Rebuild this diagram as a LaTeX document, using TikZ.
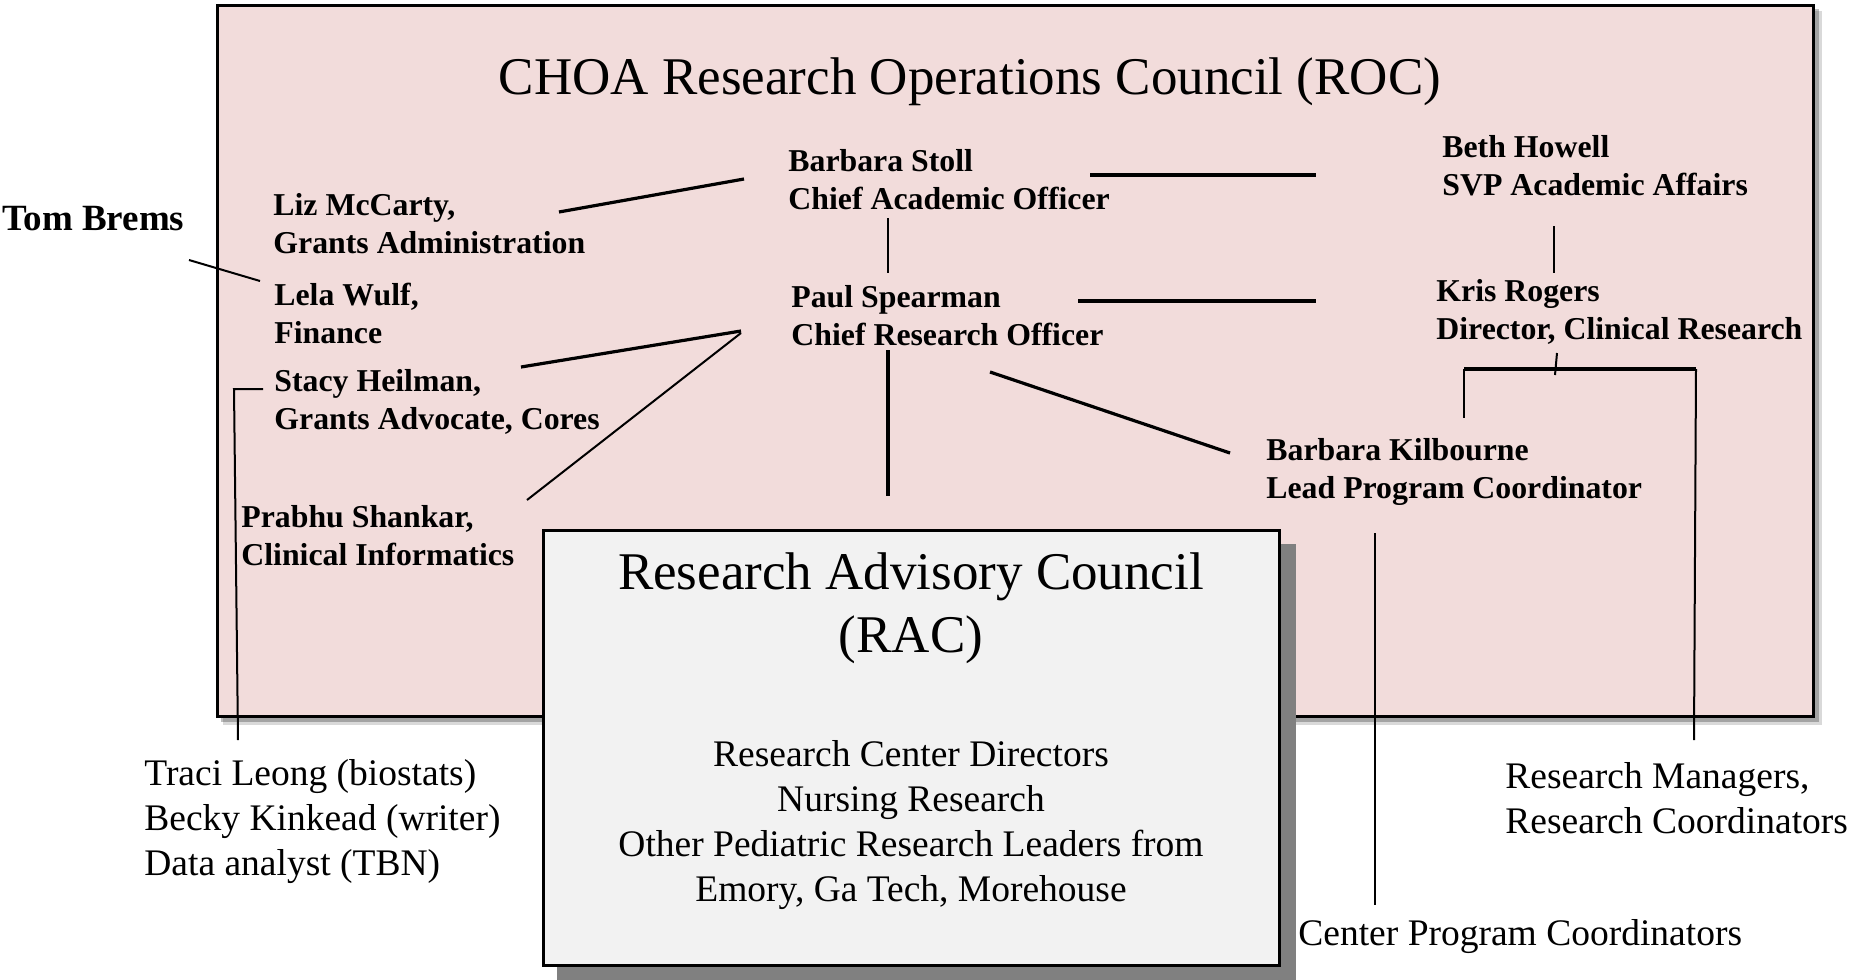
\documentclass[tikz,border=0pt]{standalone}
\usepackage{fontspec}
\setmainfont{Liberation Serif}
\definecolor{rocfill}{HTML}{F2DCDB}
\definecolor{racfill}{HTML}{F2F2F2}
\definecolor{shadowgray}{HTML}{808080}
\begin{document}
\begin{tikzpicture}[x=0.5pt,y=-0.5pt,
  namebox/.style={font=\fontsize{15.9}{19}\selectfont\bfseries, align=left, inner sep=0, anchor=west},
  plainbox/.style={font=\fontsize{18.75}{22.5}\selectfont, align=left, inner sep=0, anchor=west},
  centerbox/.style={font=\fontsize{18.75}{22.5}\selectfont, align=center, inner sep=0},
  titlebox/.style={font=\fontsize{26.5}{31.5}\selectfont, align=center, inner sep=0},
  thinline/.style={line width=1pt},
  boldline/.style={line width=1.6pt},
]
\useasboundingbox (0,0) rectangle (1854,980);
% ROC box with soft shadow
\fill[black,opacity=0.15] (223,11) rectangle (1822,725);
\fill[black,opacity=0.25] (221,9) rectangle (1819,722);
\draw[line width=1.5pt, fill=rocfill] (217,5) rectangle (1813,716);
\node[titlebox] (roc) at (970,82) {CHOA Research Operations Council (ROC)};

% coordinates for connector ends
\coordinate (tomA) at (189,260); \coordinate (tomB) at (260,281);
\coordinate (lizA) at (559,212); \coordinate (lizB) at (744,179);
\coordinate (stollS) at (888,218); \coordinate (spearN) at (888,273);
\coordinate (stacyA) at (521,367); \coordinate (spearW1) at (741,331);
\coordinate (prabA) at (527,500); \coordinate (spearW2) at (741,333);
\coordinate (stacyB) at (263,389); \coordinate (stacyC) at (234,389); \coordinate (stacyD) at (238,740);
\coordinate (spearS) at (888,350); \coordinate (racN) at (888,496);
\coordinate (stollE) at (1090,175); \coordinate (bethW) at (1316,175);
\coordinate (spearE) at (1078,301); \coordinate (krisW) at (1316,301);
\coordinate (bethS) at (1554,226); \coordinate (krisN) at (1554,273);
\coordinate (krisS) at (1557,353); \coordinate (krisJ) at (1555,375);
\coordinate (brL) at (1464,369); \coordinate (brR) at (1696,369);
\coordinate (brLd) at (1464,418); \coordinate (brRd) at (1694,740);
\coordinate (spearSE) at (990,372); \coordinate (kilNW) at (1230,453);
\coordinate (kilS) at (1375,533); \coordinate (cpcN) at (1375,905);

% connectors
\draw[thinline] (tomA) -- (tomB);
\draw[boldline] (lizA) -- (lizB);
\draw[thinline] (stollS) -- (spearN);
\draw[boldline] (stacyA) -- (spearW1);
\draw[thinline] (prabA) -- (spearW2);
\draw[thinline] (stacyB) -- (stacyC) -- (stacyD);
\draw[boldline] (spearS) -- (racN);
\draw[boldline] (stollE) -- (bethW);
\draw[boldline] (spearE) -- (krisW);
\draw[thinline] (bethS) -- (krisN);
\draw[thinline] (krisS) -- (krisJ);
\draw[boldline] (brL) -- (brR);
\draw[thinline] (brL) -- (brLd);
\draw[thinline] (brR) -- (brRd);
\draw[boldline] (spearSE) -- (kilNW);
\draw[thinline] (kilS) -- (cpcN);

% RAC box
\fill[shadowgray] (557,544) rectangle (1296,980);
\draw[line width=1.5pt, fill=racfill] (543,530) rectangle (1279,965);
\node[titlebox] (rac) at (911,608) {Research Advisory Council\\(RAC)};
\node[centerbox] (racbody) at (911,825) {Research Center Directors\\Nursing Research\\Other Pediatric Research Leaders from\\Emory, Ga Tech, Morehouse};

% name nodes
\node[namebox, font=\fontsize{18.5}{22}\selectfont\bfseries] (tom) at (2,219) {Tom Brems};
\node[namebox] (liz) at (273,224) {Liz McCarty,\\Grants Administration};
\node[namebox] (lela) at (274,313) {Lela Wulf,\\Finance};
\node[namebox] (stacy) at (274,402) {Stacy Heilman,\\Grants Advocate, Cores};
\node[namebox] (prabhu) at (241,536) {Prabhu Shankar,\\Clinical Informatics};
\node[namebox] (stoll) at (788,180) {Barbara Stoll\\Chief Academic Officer};
\node[namebox] (spearman) at (791,316) {Paul Spearman\\Chief Research Officer};
\node[namebox] (beth) at (1442,166) {Beth Howell\\SVP Academic Affairs};
\node[namebox] (kris) at (1436,312) {Kris Rogers\\Director, Clinical Research};
\node[namebox] (kilbourne) at (1266,472) {Barbara Kilbourne\\Lead Program Coordinator};

% outside texts
\node[plainbox] (support) at (144,822) {Traci Leong (biostats)\\Becky Kinkead (writer)\\Data analyst (TBN)};
\node[plainbox] (managers) at (1505,798) {Research Managers,\\Research Coordinators};
\node[plainbox] (cpc) at (1298,937) {Center Program Coordinators};
\end{tikzpicture}
\end{document}
